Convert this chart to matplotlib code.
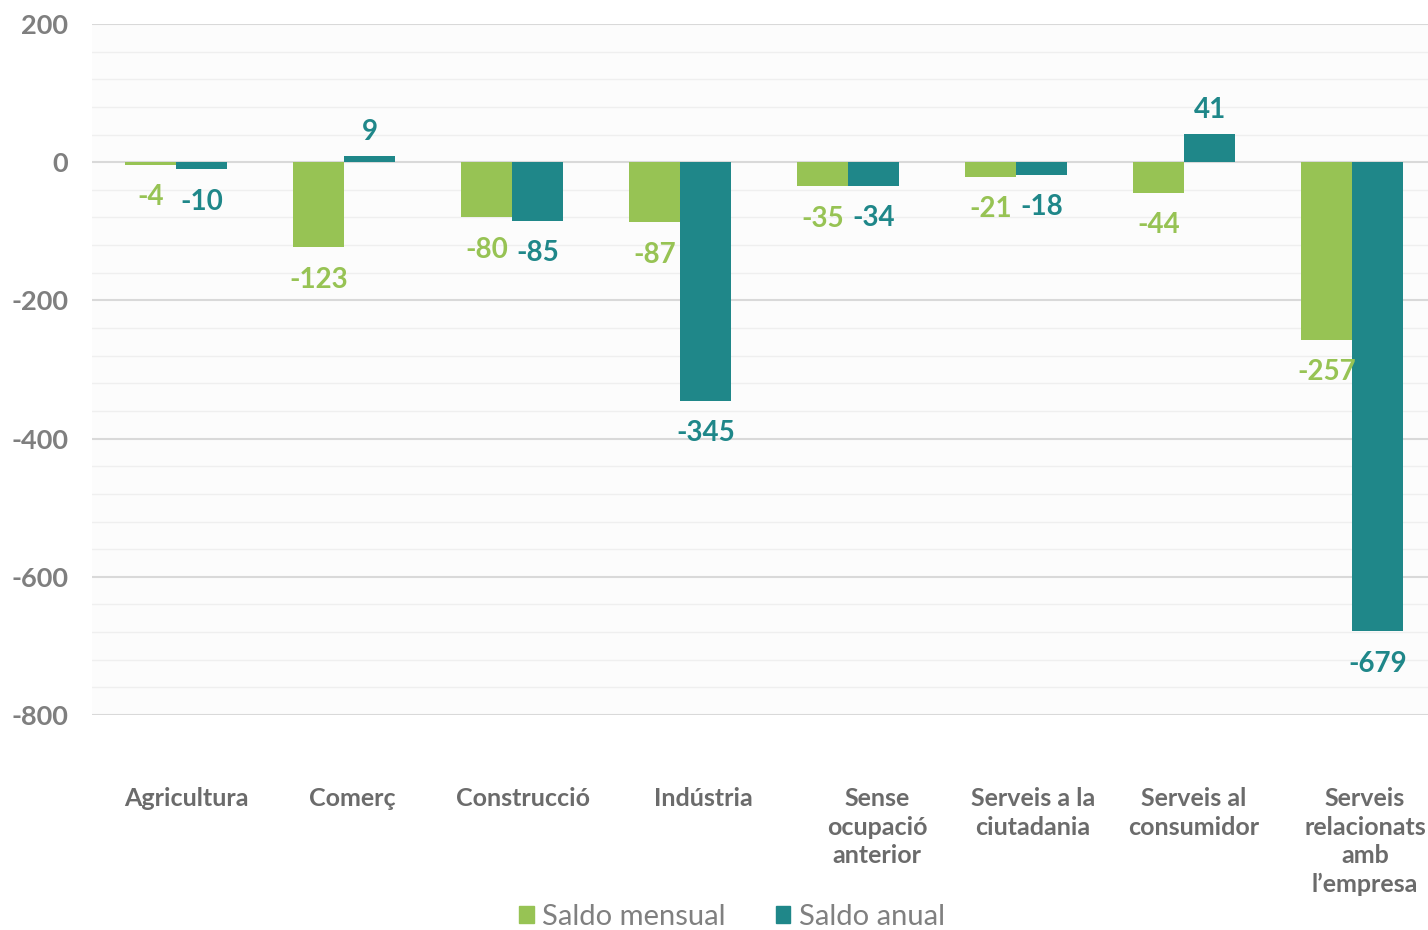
import matplotlib
matplotlib.use("Agg")
import matplotlib.pyplot as plt
import numpy as np
from matplotlib.ticker import MultipleLocator
from matplotlib.patches import Patch
import matplotlib.transforms as mtransforms

plt.rcParams['font.family'] = ['Lato', 'DejaVu Sans']

categories = ["Agricultura", "Comerç", "Construcció", "Indústria",
              "Sense\nocupació\nanterior", "Serveis a la\nciutadania",
              "Serveis al\nconsumidor", "Serveis\nrelacionats\namb\nl’empresa"]
mensual = [-4, -123, -80, -87, -35, -21, -44, -257]
anual = [-10, 9, -85, -345, -34, -18, 41, -679]
series_names = ["Saldo mensual", "Saldo anual"]

green = "#97C354"
teal = "#1F8789"

fig = plt.figure(figsize=(14.28, 9.30), dpi=100)
ax = fig.add_axes([92/1428, 215/930, 1344/1428, 691/930])
ax.set_facecolor("#fcfcfc")

x = np.arange(len(categories))
w = 0.304
ax.bar(x - w/2, mensual, width=w, color=green, zorder=3)
ax.bar(x + w/2, anual, width=w, color=teal, zorder=3)

ax.set_xlim(-0.5, len(categories) - 0.5)
ax.set_ylim(-800, 200)
ax.yaxis.set_minor_locator(MultipleLocator(40))
ax.grid(which='major', axis='y', color='#d9d9d9', lw=1.5, zorder=1)
ax.grid(which='minor', axis='y', color='#efefef', lw=1.0, zorder=0)
for s in ax.spines.values():
    s.set_visible(False)
ax.tick_params(axis='y', which='both', length=0, pad=17)
ax.set_yticks([200, 0, -200, -400, -600, -800])
ax.set_yticklabels(["200", "0", "-200", "-400", "-600", "-800"],
                   fontweight='bold', color='#7f7f7f', fontsize=19.5)

# category labels (pixel nudges to match reference placement)
ax.set_xticks(x)
ax.set_xticklabels([])
ax.tick_params(axis='x', length=0)
nudges_px = [10, 8, 11, 23, 29, 17, 10, 13]
for xi, cat, dx in zip(x, categories, nudges_px):
    trans = ax.get_xaxis_transform() + mtransforms.ScaledTranslation(dx/100, -72/100, fig.dpi_scale_trans)
    ax.text(xi, 0, cat, transform=trans, ha='center', va='top', fontsize=18,
            fontweight='bold', color='#6b6b6b', linespacing=1.3, multialignment='center')

def label(xs, vals, color):
    for xi, v in zip(xs, vals):
        if v >= 0:
            ax.annotate(str(v), (xi, v), xytext=(0, 8), textcoords='offset points',
                        ha='center', va='bottom', fontsize=20, fontweight='bold',
                        color=color, zorder=4)
        else:
            ax.annotate(str(v), (xi, v), xytext=(0, -14), textcoords='offset points',
                        ha='center', va='top', fontsize=20, fontweight='bold',
                        color=color, zorder=4)

label(x - w/2, mensual, green)
label(x + w/2, anual, teal)

handles = [Patch(color=green, label=series_names[0]),
           Patch(color=teal, label=series_names[1])]
leg = fig.legend(handles=handles, loc='center', ncol=2,
                 bbox_to_anchor=(732/1428, 1 - 917/930), frameon=False,
                 fontsize=21, handlelength=0.5, handleheight=0.5,
                 handletextpad=0.3, columnspacing=1.7)
for t in leg.get_texts():
    t.set_color('#808080')

fig.savefig("out.png", dpi=100)
